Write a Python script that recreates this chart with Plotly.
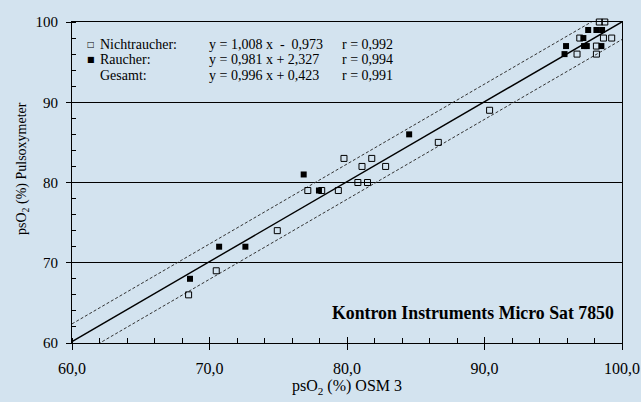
import plotly.graph_objects as go

# ---- data ----
nicht_x = [68.48, 70.49, 74.93, 77.15, 78.16, 79.37, 80.79, 81.49, 81.09, 82.81, 79.78, 81.8,
           86.64, 90.37, 96.73, 98.14, 98.14, 96.93, 98.65, 99.25, 98.35, 98.75]
nicht_y = [66, 69, 74, 79, 79, 79, 80, 80, 82, 82, 83, 83,
           85, 89, 96, 96, 97, 98, 98, 98, 100, 100]
raucher_x = [68.58, 70.7, 72.61, 77.96, 76.85, 84.52, 95.82, 95.93, 97.24, 97.44, 98.5,
             97.19, 97.54, 98.14, 98.55]
raucher_y = [68, 72, 72, 79, 81, 86, 96, 97, 97, 97, 97, 98, 99, 99, 99]

gesamt_slope = 0.996
gesamt_intercept = 0.423
band_halfwidth = 2.2
line_x = [60, 100]

x_tickvals = [60, 70, 80, 90, 100]
x_ticktext = ["60,0", "70,0", "80,0", "90,0", "100,0"]
x_inner_major = [70, 80, 90]
y_tickvals = [60, 70, 80, 90, 100]
y_ticktext = ["60", "70", "80", "90", "100"]

legend_rows = [
    ("\u25a1", "Nichtraucher:", "y = 1,008 x  -  0,973", "r = 0,992"),
    ("\u25a0", "Raucher:", "y = 0,981 x + 2,327", "r = 0,994"),
    ("", "Gesamt:", "y = 0,996 x + 0,423", "r = 0,991"),
]

BG = "#d3e3ef"
FONT = "Liberation Serif, Times New Roman, serif"

fig = go.Figure()

fit_y = [gesamt_slope * x + gesamt_intercept for x in line_x]
up_y = [y + band_halfwidth for y in fit_y]
lo_y = [y - band_halfwidth for y in fit_y]

fig.add_trace(go.Scatter(x=line_x, y=up_y, mode="lines",
                         line=dict(color="#333", width=1, dash="3px,2px"), showlegend=False))
fig.add_trace(go.Scatter(x=line_x, y=lo_y, mode="lines",
                         line=dict(color="#333", width=1, dash="3px,2px"), showlegend=False))
fig.add_trace(go.Scatter(x=line_x, y=fit_y, mode="lines",
                         line=dict(color="black", width=1.4), showlegend=False))

fig.add_trace(go.Scatter(x=nicht_x, y=nicht_y, mode="markers", cliponaxis=False,
                         marker=dict(symbol="square-open", size=6, color="black",
                                     line=dict(width=1)),
                         showlegend=False))
fig.add_trace(go.Scatter(x=raucher_x, y=raucher_y, mode="markers", cliponaxis=False,
                         marker=dict(symbol="square", size=6, color="black"),
                         showlegend=False))
# empty trace so the overlay axis (inner halves of the major x ticks) is drawn
fig.add_trace(go.Scatter(x=[], y=[], xaxis="x2", showlegend=False, hoverinfo="skip"))

# legend-like text block
row_y = [0.931, 0.882, 0.832]
for (sym, name, eq, r), yy in zip(legend_rows, row_y):
    if sym:
        fig.add_annotation(x=0.034, y=yy, xref="paper", yref="paper", text=sym,
                           showarrow=False, xanchor="center", yanchor="middle",
                           font=dict(family="DejaVu Sans", size=8, color="black"))
    fig.add_annotation(x=0.048, y=yy, xref="paper", yref="paper", text=name,
                       showarrow=False, xanchor="left", yanchor="middle",
                       font=dict(family=FONT, size=14, color="black"))
    fig.add_annotation(x=0.245, y=yy, xref="paper", yref="paper", text=eq,
                       showarrow=False, xanchor="left", yanchor="middle",
                       font=dict(family=FONT, size=14, color="black"))
    fig.add_annotation(x=0.487, y=yy, xref="paper", yref="paper", text=r,
                       showarrow=False, xanchor="left", yanchor="middle",
                       font=dict(family=FONT, size=14, color="black"))

fig.add_annotation(x=0.989, y=0.0925, xref="paper", yref="paper",
                   text="<b>Kontron Instruments Micro Sat 7850</b>",
                   showarrow=False, xanchor="right", yanchor="middle",
                   font=dict(family=FONT, size=17.8, color="black"))

fig.add_annotation(x=-0.091, y=0.545, xref="paper", yref="paper",
                   text="psO<sub>2</sub> (%) Pulsoxymeter", textangle=-90,
                   showarrow=False, xanchor="center", yanchor="middle",
                   font=dict(family=FONT, size=14, color="black"))

fig.update_layout(
    width=641, height=402,
    margin=dict(l=72, r=19, t=22, b=59),
    paper_bgcolor=BG, plot_bgcolor=BG,
    showlegend=False,
    font=dict(family=FONT, size=14, color="black"),
    xaxis2=dict(overlaying="x", anchor="y", side="bottom", range=[60, 100],
                tickmode="array", tickvals=x_inner_major, ticks="inside", ticklen=6,
                tickcolor="black", tickwidth=1, showticklabels=False, showline=False,
                showgrid=False, zeroline=False, automargin=False),
)

fig.layout.xaxis.update(
    range=[60, 100], tickmode="array", tickvals=x_tickvals, ticktext=x_ticktext,
    showline=True, linecolor="black", linewidth=1, mirror=True,
    ticks="outside", ticklen=6, tickcolor="black", tickwidth=1,
    minor=dict(tickmode="linear", tick0=60, dtick=2, ticks="inside", ticklen=5,
               tickcolor="black", showgrid=False),
    showgrid=False, zeroline=False, automargin=False,
    ticklabeloverflow="allow", ticklabelstandoff=5,
    tickfont=dict(family=FONT, size=16, color="black"),
    title=dict(text="psO<sub>2</sub> (%) OSM 3", standoff=2,
               font=dict(family=FONT, size=16, color="black")),
)
fig.layout.yaxis.update(
    range=[60, 100], tickmode="array", tickvals=y_tickvals, ticktext=y_ticktext,
    showline=True, linecolor="black", linewidth=1, mirror=True,
    ticks="outside", ticklen=5, tickcolor="black", tickwidth=1,
    minor=dict(tickmode="linear", tick0=60, dtick=2, ticks="inside", ticklen=4,
               tickcolor="black", showgrid=False),
    showgrid=True, gridcolor="black", gridwidth=1, zeroline=False, automargin=False,
    ticklabelstandoff=5,
    tickfont=dict(family=FONT, size=15, color="black"),
)

fig.write_html("out.html",
               config={"displayModeBar": False},
               post_script="document.body.style.margin='0';document.body.style.overflow='hidden';")
